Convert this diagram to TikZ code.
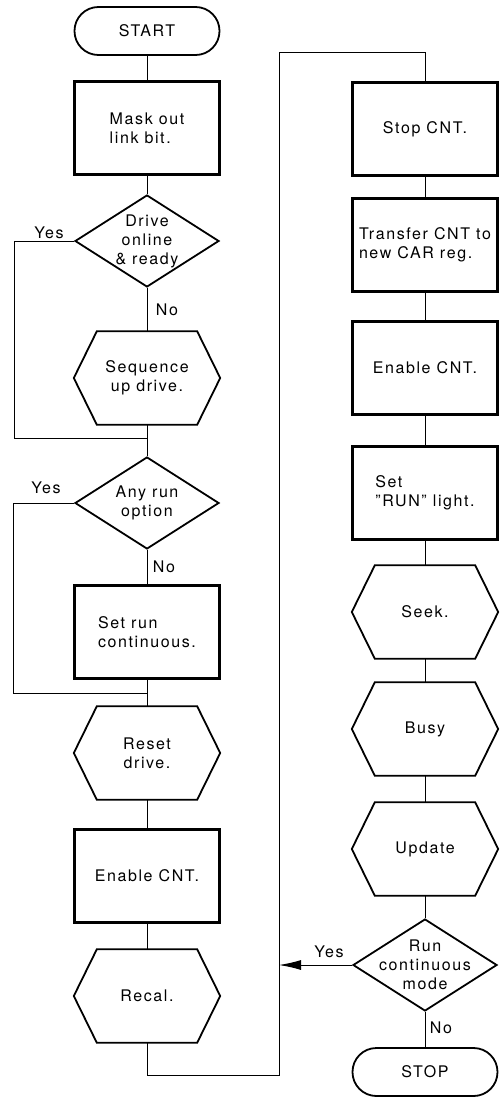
\documentclass[tikz,border=0pt]{standalone}
\usepackage{fontspec}
\setmainfont{TeX Gyre Heros}[LetterSpace=10]
\usetikzlibrary{arrows.meta,shapes.geometric}
\tikzset{
 stepbox/.style={draw,line width=2.2pt,minimum width=145pt,minimum height=93pt,inner sep=2pt,align=left},
 hexbox/.style={minimum width=100pt,minimum height=93pt,inner sep=0pt,align=center},
 hexline/.style={line width=1.8pt,line join=miter},
 decide/.style={draw,diamond,line width=1.8pt,minimum width=144pt,minimum height=92pt,aspect=1.6,inner sep=-12pt,align=center},
 term/.style={draw,line width=1.8pt,rounded corners=23.9pt,minimum width=145pt,minimum height=48pt},
 flow/.style={line width=1pt}
}
\begin{document}
\begin{tikzpicture}[x=1pt,y=-1pt,font=\fontsize{16}{19}\selectfont]
\useasboundingbox(0,0)rectangle(499,1098);
% left column
\node[term](start)at(147,31){START};
\node[stepbox](mask)at(147,128){Mask out\\link bit.};
\node[decide](drive)at(147,241){Drive\\online\\\& ready};
\node[hexbox](seq)at(147,378){Sequence\\up drive.};
\node[decide](anyrun)at(147,503){Any run\\option};
\node[stepbox](setrun)at(147,632){Set run\\continuous.};
\node[hexbox](reset)at(147,753){Reset\\drive.};
\node[stepbox,align=center](enable)at(147,876){Enable CNT.};
\node[hexbox](recal)at(147,996){Recal.};
% right column
\node[stepbox,align=center](stopcnt)at(425,129){Stop CNT.};
\node[stepbox](transfer)at(425,245){Transfer CNT to\\new CAR reg.};
\node[stepbox,align=center](enable2)at(425,368){Enable CNT.};
\node[stepbox](light)at(425,493){Set\\"RUN" light.};
\node[hexbox](seek)at(425,612){Seek.};
\node[hexbox](busy)at(425,729){Busy};
\node[hexbox](update)at(425,849){Update};
\node[decide](runmode)at(425,965){Run\\continuous\\mode};
\node[term](stop)at(425,1072){STOP};
\foreach \n in {seq,reset,recal,seek,busy,update}
 \draw[hexline]([xshift=-23pt]\n.west)--(\n.north west)--(\n.north east)--([xshift=23pt]\n.east)--(\n.south east)--(\n.south west)--cycle;
\foreach \a/\b in {start/mask,mask/drive,drive/seq,seq/anyrun,anyrun/setrun,setrun/reset,reset/enable,enable/recal,stopcnt/transfer,transfer/enable2,enable2/light,light/seek,seek/busy,busy/update,update/runmode,runmode/stop}
 \draw[flow](\a)--(\b);
% loops and return path
\coordinate(j1)at(147,438);\coordinate(j2)at(147,693);
\coordinate(back)at(279,1075);\coordinate(top)at(279,52);
\draw[flow](drive.west)-|([xshift=-133pt]j1)--(j1);
\draw[flow](anyrun.west)-|([xshift=-134pt]j2)--(j2);
\draw[flow](recal.south)|-(back)--(top)-|(stopcnt.north);
\draw[flow,-{Latex[length=22pt,width=10pt]}](runmode.west)--(runmode.west-|back);
\node(yes1)at(49,233){Yes};\node(no1)at(167,310){No};
\node(yes2)at(46,488){Yes};\node(no2)at(164,567){No};
\node(yes3)at(329,952){Yes};\node(no3)at(441,1028){No};
\end{tikzpicture}
\end{document}
